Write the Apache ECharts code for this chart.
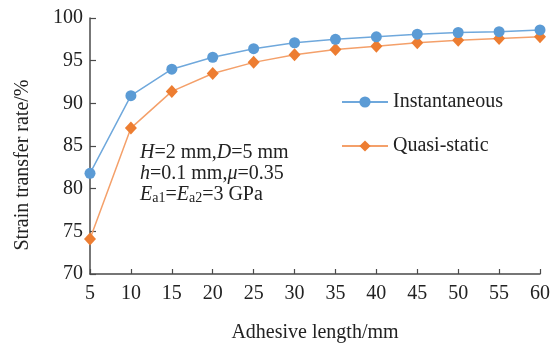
<!DOCTYPE html>
<html>
<head>
<meta charset="utf-8">
<script src="https://cdn.jsdelivr.net/npm/echarts@6/dist/echarts.min.js"></script>
<style>
  html, body { margin: 0; padding: 0; background: #fff; }
  #chart { width: 559px; height: 347px; }
</style>
</head>
<body>
<div id="chart"></div>
<script>
// Adhesive length (mm)
const lengths = [5, 10, 15, 20, 25, 30, 35, 40, 45, 50, 55, 60];
// Strain transfer rate (%) for each loading case
const instantaneous = [81.8, 90.9, 94.0, 95.4, 96.4, 97.1, 97.5, 97.8, 98.1, 98.3, 98.4, 98.6];
const quasiStatic = [74.1, 87.1, 91.4, 93.5, 94.8, 95.7, 96.3, 96.7, 97.1, 97.4, 97.6, 97.8];
const seriesNames = ['Instantaneous', 'Quasi-static'];

const FONT = '"Liberation Serif", "Times New Roman", serif';
const AXIS_COLOR = '#4a4a4a';
const TEXT_COLOR = '#222';

const pairs = (ys) => lengths.map((x, i) => [x, ys[i]]);

const chart = echarts.init(document.getElementById('chart'));
chart.setOption({
  animation: false,
  textStyle: { fontFamily: FONT, color: TEXT_COLOR },
  grid: { left: 90, right: 19, top: 18, bottom: 73, containLabel: false, outerBoundsMode: 'none' },
  xAxis: {
    type: 'value',
    min: 5, max: 60, interval: 5,
    name: 'Adhesive length/mm',
    nameLocation: 'middle',
    nameGap: 49,
    nameTextStyle: { fontSize: 20, fontFamily: FONT, color: TEXT_COLOR },
    axisLine: { lineStyle: { color: AXIS_COLOR, width: 1.5 } },
    axisTick: { inside: true, length: 5, lineStyle: { color: AXIS_COLOR, width: 1.2 } },
    axisLabel: { fontSize: 20, fontFamily: FONT, color: TEXT_COLOR, margin: 10 },
    splitLine: { show: false }
  },
  yAxis: {
    type: 'value',
    min: 70, max: 100, interval: 5,
    name: 'Strain transfer rate/%',
    nameLocation: 'middle',
    nameGap: 57,
    nameTextStyle: { fontSize: 20, fontFamily: FONT, color: TEXT_COLOR, padding: [0, 38, 0, 0] },
    axisLine: { show: true, lineStyle: { color: AXIS_COLOR, width: 1.5 } },
    axisTick: { show: true, inside: true, length: 6, lineStyle: { color: AXIS_COLOR, width: 1.2 } },
    axisLabel: { fontSize: 20, fontFamily: FONT, color: TEXT_COLOR, margin: 7 },
    splitLine: { show: false }
  },
  legend: {
    orient: 'vertical',
    left: 336, top: 87,
    itemWidth: 46, itemHeight: 14,
    itemGap: 24,
    textStyle: { fontSize: 20, fontFamily: FONT, color: TEXT_COLOR, padding: [0, 0, 0, 0] },
    data: seriesNames
  },
  graphic: [{
    type: 'text',
    left: 140, top: 142,
    style: {
      text: '{i|H}=2 mm,{i|D}=5 mm\n{i|h}=0.1 mm,{i|μ}=0.35\n{i|E}{s|a1}={i|E}{s|a2}=3 GPa',
      fontSize: 20,
      fontFamily: FONT,
      fill: TEXT_COLOR,
      lineHeight: 21,
      rich: {
        i: { fontStyle: 'italic', fontSize: 20, fontFamily: FONT, lineHeight: 21 },
        s: { fontSize: 14, fontFamily: FONT, verticalAlign: 'bottom', lineHeight: 21 }
      }
    }
  }],
  series: [
    {
      name: seriesNames[0],
      type: 'line',
      data: pairs(instantaneous),
      symbol: 'circle',
      symbolSize: 11,
      lineStyle: { color: '#6fa8dc', width: 1.5 },
      itemStyle: { color: '#5b9bd5' },
      z: 3
    },
    {
      name: seriesNames[1],
      type: 'line',
      data: pairs(quasiStatic),
      symbol: 'diamond',
      symbolSize: [12, 13],
      lineStyle: { color: '#f4a06a', width: 1.5 },
      itemStyle: { color: '#ed7d31' },
      z: 2
    }
  ]
});
</script>
</body>
</html>
